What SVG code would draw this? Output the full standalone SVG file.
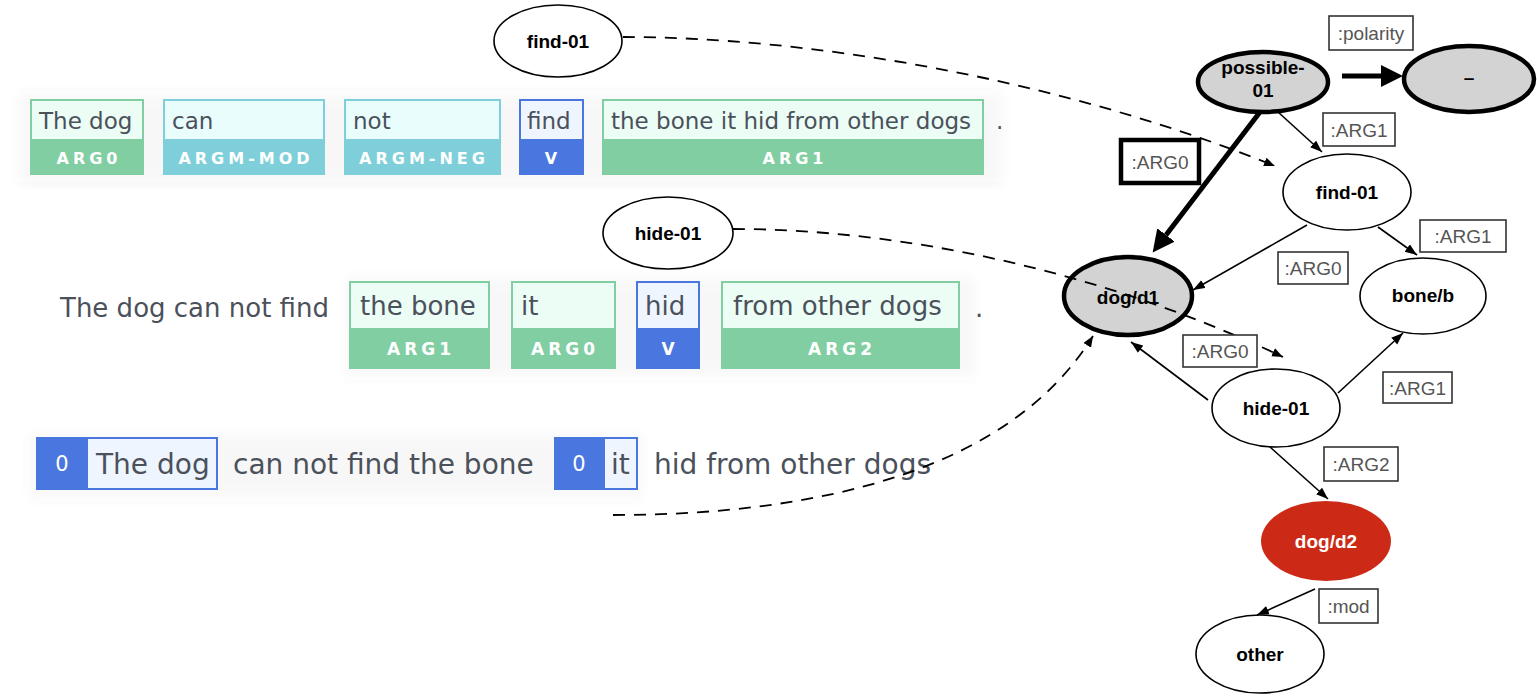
<svg xmlns="http://www.w3.org/2000/svg" width="1537" height="696" viewBox="0 0 1537 696">
<defs>
<style>
.srl{font-family:"DejaVu Sans",Verdana,sans-serif;fill:#4b515b}
.r1{font-size:23px}
.r2{font-size:26px}
.r3{font-size:28px}
.lab{font-family:"DejaVu Sans",Verdana,sans-serif;font-weight:bold;fill:#fff;text-anchor:middle;letter-spacing:4px}
.l1{font-size:16px}
.l2{font-size:17px}
.zero{font-family:"DejaVu Sans",Verdana,sans-serif;font-size:21px;fill:#fff;text-anchor:middle}
.arg{fill:#82cea3}
.argm{fill:#7ecfd9}
.v{fill:#4a76df}
.inA{fill:#ebfdf5}
.inM{fill:#eafdfd}
.inV{fill:#eff5fe}
.shade{fill:#000;opacity:0.07}
.node{stroke:#000;stroke-width:1.6;fill:#fff}
.thick{stroke:#000;stroke-width:4.5;fill:#d3d3d3}
.nt{font-family:"Liberation Sans",Arial,sans-serif;font-weight:bold;font-size:19px;text-anchor:middle;fill:#000}
.edge{fill:none;stroke:#000;stroke-width:1.6}
.bold{fill:none;stroke:#000;stroke-width:5}
.dash{fill:none;stroke:#000;stroke-width:1.8;stroke-dasharray:12 9}
.lb{fill:#fff;stroke:#333;stroke-width:1.6}
.el{font-family:"Liberation Sans",Arial,sans-serif;font-size:19px;fill:#555;text-anchor:middle}
</style>
<filter id="blur" x="-10%" y="-40%" width="120%" height="180%"><feGaussianBlur stdDeviation="6"/></filter>
<marker id="ah" markerUnits="userSpaceOnUse" markerWidth="13" markerHeight="10" refX="12" refY="4.5" orient="auto"><path d="M0,0 L12,4.5 L0,9 z" fill="#000"/></marker>
<marker id="ahb" markerUnits="userSpaceOnUse" markerWidth="23" markerHeight="23" refX="0" refY="11" orient="auto"><path d="M0,0 L22,11 L0,22 z" fill="#000"/></marker>
<marker id="ahd" markerUnits="userSpaceOnUse" markerWidth="12" markerHeight="10" refX="11" refY="4.5" orient="auto"><path d="M0,0 L11,4.5 L0,9 z" fill="#000"/></marker>
</defs>
<rect width="1537" height="696" fill="#fff"/>

<!-- SRL row 1 -->
<g id="row1">
<rect class="shade" x="18" y="94" width="985" height="88" filter="url(#blur)"/>
<rect x="0" y="90" width="1010" height="92" fill="#fff" opacity="0.6"/>
<g id="r1-arg0"><rect class="arg" x="30" y="99" width="114" height="76"/><rect class="inA" x="32" y="101" width="110" height="38"/><text class="srl r1" x="39" y="129">The dog</text><text class="lab l1" x="89" y="164">ARG0</text></g>
<g id="r1-mod"><rect class="argm" x="163" y="99" width="162" height="76"/><rect class="inM" x="165" y="101" width="158" height="38"/><text class="srl r1" x="172" y="129">can</text><text class="lab l1" x="246" y="164">ARGM-MOD</text></g>
<g id="r1-neg"><rect class="argm" x="344" y="99" width="157" height="76"/><rect class="inM" x="346" y="101" width="153" height="38"/><text class="srl r1" x="353" y="129">not</text><text class="lab l1" x="424" y="164">ARGM-NEG</text></g>
<g id="r1-v"><rect class="v" x="519" y="99" width="65" height="76"/><rect class="inV" x="521" y="101" width="61" height="38"/><text class="srl r1" x="527" y="129">find</text><text class="lab l1" x="553" y="164">V</text></g>
<g id="r1-arg1"><rect class="arg" x="602" y="99" width="382" height="76"/><rect class="inA" x="604" y="101" width="378" height="38"/><text class="srl r1" x="611" y="129">the bone it hid from other dogs</text><text class="lab l1" x="795" y="164">ARG1</text></g>
<text class="srl r1" x="996" y="129">.</text>
</g>

<!-- SRL row 2 -->
<g id="row2">
<rect class="shade" x="345" y="278" width="630" height="98" filter="url(#blur)"/>
<rect x="335" y="272" width="660" height="108" fill="#fff" opacity="0.6"/>
<text class="srl r2" x="60" y="317">The dog can not find</text>
<g id="r2-arg1"><rect class="arg" x="349" y="281" width="141" height="88"/><rect class="inA" x="351" y="283" width="137" height="45"/><text class="srl r2" x="360" y="315">the bone</text><text class="lab l2" x="421" y="355">ARG1</text></g>
<g id="r2-arg0"><rect class="arg" x="511" y="281" width="105" height="88"/><rect class="inA" x="513" y="283" width="101" height="45"/><text class="srl r2" x="521" y="315">it</text><text class="lab l2" x="565" y="355">ARG0</text></g>
<g id="r2-v"><rect class="v" x="636" y="281" width="64" height="88"/><rect class="inV" x="638" y="283" width="60" height="45"/><text class="srl r2" x="645" y="315">hid</text><text class="lab l2" x="670" y="355">V</text></g>
<g id="r2-arg2"><rect class="arg" x="721" y="281" width="239" height="88"/><rect class="inA" x="723" y="283" width="235" height="45"/><text class="srl r2" x="733" y="315">from other dogs</text><text class="lab l2" x="842" y="355">ARG2</text></g>
<text class="srl r2" x="975" y="317">.</text>
</g>

<!-- coref row 3 -->
<g id="row3">
<rect class="shade" x="30" y="434" width="612" height="64" filter="url(#blur)"/>
<rect x="25" y="428" width="625" height="74" fill="#fff" opacity="0.6"/>
<g id="r3-c1"><rect class="v" x="36" y="437" width="182" height="53"/><rect class="inV" x="88" y="439" width="128" height="49"/><text class="zero" x="62" y="471">0</text><text class="srl r3" x="96" y="474">The dog</text></g>
<text class="srl r3" x="233" y="474">can not find the bone</text>
<g id="r3-c2"><rect class="v" x="554" y="437" width="84" height="53"/><rect class="inV" x="605" y="439" width="31" height="49"/><text class="zero" x="579" y="471">0</text><text class="srl r3" x="611" y="474">it</text></g>
<text class="srl r3" x="654" y="474">hid from other dogs</text>
</g>

<!-- nodes -->
<g id="n-find-left"><ellipse class="node" cx="558" cy="41" rx="64" ry="36"/><text class="nt" x="558" y="48">find-01</text></g>
<g id="n-hide-left"><ellipse class="node" cx="668" cy="233" rx="65" ry="36"/><text class="nt" x="668" y="240">hide-01</text></g>
<g id="n-possible"><ellipse class="thick" cx="1263" cy="82" rx="65" ry="30"/><text class="nt" x="1263" y="74">possible-</text><text class="nt" x="1263" y="97">01</text></g>
<g id="n-minus"><ellipse class="thick" cx="1469" cy="79" rx="65" ry="33"/><text class="nt" x="1469" y="84">–</text></g>
<g id="n-find"><ellipse class="node" cx="1347" cy="192" rx="64" ry="38"/><text class="nt" x="1347" y="199">find-01</text></g>
<g id="n-dog1"><ellipse class="thick" cx="1128" cy="296" rx="64" ry="39"/><text class="nt" x="1128" y="304">dog/d1</text></g>
<g id="n-bone"><ellipse class="node" cx="1423" cy="296" rx="63" ry="38"/><text class="nt" x="1423" y="302">bone/b</text></g>
<g id="n-hide"><ellipse class="node" cx="1276" cy="408" rx="64" ry="39"/><text class="nt" x="1276" y="415">hide-01</text></g>
<g id="n-dog2"><ellipse cx="1326" cy="541" rx="65" ry="40" fill="#cc2a16"/><text class="nt" x="1326" y="548" style="fill:#fff">dog/d2</text></g>
<g id="n-other"><ellipse class="node" cx="1260" cy="654" rx="64" ry="39"/><text class="nt" x="1260" y="661">other</text></g>

<!-- connectors -->
<g id="connectors">
<path class="dash" d="M623,37 C800,37 1050,75 1275,166" marker-end="url(#ahd)"/>
<path class="dash" d="M733,229 C900,229 1100,270 1283,357" marker-end="url(#ahd)"/>
<path class="dash" d="M613,515 C820,515 1010,470 1093,336" marker-end="url(#ahd)"/>
<line class="bold" x1="1342" y1="76" x2="1381" y2="76" marker-end="url(#ahb)"/>
<line class="bold" x1="1260" y1="112" x2="1166" y2="235" marker-end="url(#ahb)"/>
<line class="edge" x1="1278" y1="112" x2="1322" y2="152" marker-end="url(#ah)"/>
<line class="edge" x1="1307" y1="225" x2="1193" y2="290" marker-end="url(#ah)"/>
<line class="edge" x1="1378" y1="227" x2="1417" y2="255" marker-end="url(#ah)"/>
<line class="edge" x1="1208" y1="400" x2="1131" y2="342" marker-end="url(#ah)"/>
<line class="edge" x1="1338" y1="393" x2="1403" y2="333" marker-end="url(#ah)"/>
<line class="edge" x1="1270" y1="447" x2="1328" y2="499" marker-end="url(#ah)"/>
<line class="edge" x1="1315" y1="589" x2="1257" y2="615" marker-end="url(#ah)"/>
</g>

<!-- edge labels -->
<g id="edge-labels">
<g><rect class="lb" x="1329" y="16" width="84" height="34"/><text class="el" x="1371" y="40">:polarity</text></g>
<g><rect class="lb" x="1323" y="113" width="72" height="33"/><text class="el" x="1359" y="137">:ARG1</text></g>
<g><rect class="lb" x="1121" y="140" width="78" height="43" style="stroke:#000;stroke-width:4.5"/><text class="el" x="1160" y="169">:ARG0</text></g>
<g><rect class="lb" x="1420" y="220" width="86" height="32"/><text class="el" x="1463" y="243">:ARG1</text></g>
<g><rect class="lb" x="1278" y="252" width="70" height="32"/><text class="el" x="1313" y="275">:ARG0</text></g>
<g><rect class="lb" x="1183" y="335" width="74" height="32"/><text class="el" x="1220" y="358">:ARG0</text></g>
<g><rect class="lb" x="1383" y="372" width="69" height="31"/><text class="el" x="1417.5" y="395">:ARG1</text></g>
<g><rect class="lb" x="1324" y="447" width="74" height="34"/><text class="el" x="1361" y="471">:ARG2</text></g>
<g><rect class="lb" x="1319" y="589" width="59" height="34"/><text class="el" x="1348.5" y="613">:mod</text></g>
</g>
</svg>
